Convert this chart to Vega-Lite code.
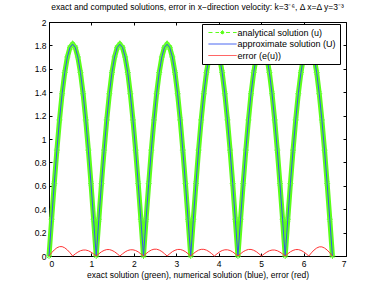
{
"$schema": "https://vega.github.io/schema/vega-lite/v6.json",
"width": 297, "height": 234,
"autosize": {"type": "none"},
"padding": {"left": 49, "top": 22, "right": 36, "bottom": 31},
"background": "white",
"title": {"text": "exact and computed solutions, error in x−direction velocity: k=3⁻⁶, Δ x=Δ y=3⁻³", "fontSize": 8.5, "font": "Liberation Sans", "fontWeight": "normal", "offset": 7, "anchor": "middle", "color": "black"},
"config": {
  "view": {"stroke": "black", "strokeWidth": 1},
  "font": "Liberation Sans",
  "axis": {"domain": false, "grid": false, "tickSize": 3, "offset": -3, "tickColor": "black", "labelColor": "black", "labelFontSize": 8.5, "labelFont": "Liberation Sans", "titleFont": "Liberation Sans", "titleFontSize": 8.5, "titleFontWeight": "normal", "titleColor": "black", "labelPadding": 3},
  "legend": {"orient": "none", "legendX": 153, "legendY": 2, "strokeColor": "black", "fillColor": "white", "padding": 3.5, "labelFontSize": 9, "labelFont": "Liberation Sans", "labelColor": "black", "symbolType": "M-0.45,0H5.8", "symbolSize": 81, "symbolStrokeWidth": 1, "rowPadding": 1.5, "symbolOffset": 0, "labelOffset": 22, "cornerRadius": 0}
},
"resolve": {"axis": {"x": "independent", "y": "independent"}},
"data": {"values": [
{"x":0,"u":0,"e":0},{"x":0.062,"u":0.314,"e":0.028},{"x":0.124,"u":0.619,"e":0.052},{"x":0.186,"u":0.905,"e":0.070},{"x":0.247,"u":1.163,"e":0.080},{"x":0.309,"u":1.387,"e":0.080},{"x":0.371,"u":1.568,"e":0.070},{"x":0.433,"u":1.701,"e":0.052},{"x":0.495,"u":1.783,"e":0.028},
{"x":0.557,"u":1.81,"e":0},{"x":0.619,"u":1.783,"e":0.018},{"x":0.680,"u":1.701,"e":0.033},{"x":0.742,"u":1.568,"e":0.045},{"x":0.804,"u":1.387,"e":0.051},{"x":0.866,"u":1.163,"e":0.051},{"x":0.928,"u":0.905,"e":0.045},{"x":0.990,"u":0.619,"e":0.033},{"x":1.051,"u":0.314,"e":0.018},
{"x":1.113,"u":0,"e":0},{"x":1.175,"u":0.314,"e":0.019},{"x":1.237,"u":0.619,"e":0.036},{"x":1.299,"u":0.905,"e":0.048},{"x":1.361,"u":1.163,"e":0.055},{"x":1.423,"u":1.387,"e":0.055},{"x":1.484,"u":1.568,"e":0.048},{"x":1.546,"u":1.701,"e":0.036},{"x":1.608,"u":1.783,"e":0.019},
{"x":1.670,"u":1.81,"e":0},{"x":1.732,"u":1.783,"e":0.018},{"x":1.794,"u":1.701,"e":0.035},{"x":1.856,"u":1.568,"e":0.047},{"x":1.917,"u":1.387,"e":0.053},{"x":1.979,"u":1.163,"e":0.053},{"x":2.041,"u":0.905,"e":0.047},{"x":2.103,"u":0.619,"e":0.035},{"x":2.165,"u":0.314,"e":0.018},
{"x":2.227,"u":0,"e":0},{"x":2.288,"u":0.314,"e":0.020},{"x":2.350,"u":0.619,"e":0.038},{"x":2.412,"u":0.905,"e":0.051},{"x":2.474,"u":1.163,"e":0.058},{"x":2.536,"u":1.387,"e":0.058},{"x":2.598,"u":1.568,"e":0.051},{"x":2.660,"u":1.701,"e":0.038},{"x":2.721,"u":1.783,"e":0.020},
{"x":2.783,"u":1.81,"e":0},{"x":2.845,"u":1.783,"e":0.019},{"x":2.907,"u":1.701,"e":0.037},{"x":2.969,"u":1.568,"e":0.049},{"x":3.031,"u":1.387,"e":0.056},{"x":3.093,"u":1.163,"e":0.056},{"x":3.154,"u":0.905,"e":0.049},{"x":3.216,"u":0.619,"e":0.037},{"x":3.278,"u":0.314,"e":0.019},
{"x":3.340,"u":0,"e":0},{"x":3.402,"u":0.314,"e":0.020},{"x":3.464,"u":0.619,"e":0.037},{"x":3.525,"u":0.905,"e":0.050},{"x":3.587,"u":1.163,"e":0.057},{"x":3.649,"u":1.387,"e":0.057},{"x":3.711,"u":1.568,"e":0.050},{"x":3.773,"u":1.701,"e":0.037},{"x":3.835,"u":1.783,"e":0.020},
{"x":3.897,"u":1.81,"e":0},{"x":3.958,"u":1.783,"e":0.018},{"x":4.020,"u":1.701,"e":0.035},{"x":4.082,"u":1.568,"e":0.047},{"x":4.144,"u":1.387,"e":0.053},{"x":4.206,"u":1.163,"e":0.053},{"x":4.268,"u":0.905,"e":0.047},{"x":4.330,"u":0.619,"e":0.035},{"x":4.391,"u":0.314,"e":0.018},
{"x":4.453,"u":0,"e":0},{"x":4.515,"u":0.314,"e":0.019},{"x":4.577,"u":0.619,"e":0.037},{"x":4.639,"u":0.905,"e":0.049},{"x":4.701,"u":1.163,"e":0.056},{"x":4.762,"u":1.387,"e":0.056},{"x":4.824,"u":1.568,"e":0.049},{"x":4.886,"u":1.701,"e":0.037},{"x":4.948,"u":1.783,"e":0.019},
{"x":5.010,"u":1.81,"e":0},{"x":5.072,"u":1.783,"e":0.018},{"x":5.134,"u":1.701,"e":0.033},{"x":5.195,"u":1.568,"e":0.045},{"x":5.257,"u":1.387,"e":0.051},{"x":5.319,"u":1.163,"e":0.051},{"x":5.381,"u":0.905,"e":0.045},{"x":5.443,"u":0.619,"e":0.033},{"x":5.505,"u":0.314,"e":0.018},
{"x":5.567,"u":0,"e":0},{"x":5.628,"u":0.314,"e":0.019},{"x":5.690,"u":0.619,"e":0.036},{"x":5.752,"u":0.905,"e":0.048},{"x":5.814,"u":1.163,"e":0.055},{"x":5.876,"u":1.387,"e":0.055},{"x":5.938,"u":1.568,"e":0.048},{"x":5.999,"u":1.701,"e":0.036},{"x":6.061,"u":1.783,"e":0.019},
{"x":6.123,"u":1.81,"e":0},{"x":6.185,"u":1.783,"e":0.027},{"x":6.247,"u":1.701,"e":0.051},{"x":6.309,"u":1.568,"e":0.068},{"x":6.370,"u":1.387,"e":0.078},{"x":6.432,"u":1.163,"e":0.078},{"x":6.494,"u":0.905,"e":0.068},{"x":6.556,"u":0.619,"e":0.051},{"x":6.618,"u":0.314,"e":0.027},
{"x":6.680,"u":0,"e":0}
]},
"layer": [
  {"mark": {"type": "line", "stroke": "#5cff1a", "strokeWidth": 5},
   "encoding": {
     "x": {"field": "x", "type": "quantitative", "scale": {"domain": [0, 7], "nice": false}, "axis": {"orient": "top", "labels": false, "title": null, "values": [0,1,2,3,4,5,6,7]}},
     "y": {"field": "u", "type": "quantitative", "scale": {"domain": [0, 2], "nice": false}, "axis": {"orient": "right", "labels": false, "title": null, "values": [0,0.2,0.4,0.6,0.8,1,1.2,1.4,1.6,1.8,2]}}
   }},
  {"mark": {"type": "point", "shape": "M-1,0H1M0,-1V1M-0.7,-0.7L0.7,0.7M-0.7,0.7L0.7,-0.7", "size": 36, "filled": false, "strokeWidth": 1, "color": "#66ff33", "opacity": 1},
   "encoding": {
     "x": {"field": "x", "type": "quantitative", "axis": null},
     "y": {"field": "u", "type": "quantitative", "axis": null}
   }},
  {"mark": {"type": "line", "strokeWidth": 1},
   "encoding": {
     "x": {"field": "x", "type": "quantitative", "axis": {"orient": "bottom", "values": [0,1,2,3,4,5,6,7], "title": "exact solution (green), numerical solution (blue), error (red)", "titlePadding": 3}},
     "y": {"field": "u", "type": "quantitative", "axis": {"orient": "left", "values": [0,0.2,0.4,0.6,0.8,1,1.2,1.4,1.6,1.8,2], "format": "~g", "title": null}},
     "color": {"datum": "analytical solution (u)", "scale": {"domain": ["analytical solution (u)", "approximate solution (U)", "error (e(u))"], "range": ["#5cff1a", "#3355ee", "#ff3333"]},
       "legend": {"title": null, "encode": {"symbols": {"update": {
         "shape": {"signal": "datum.label == 'analytical solution (u)' ? 'M-0.45,0H1.9M3.45,0H5.8M2.67,-0.5V0.5M2.17,0H3.17M2.32,-0.35L3.02,0.35M2.32,0.35L3.02,-0.35' : 'M-0.45,0H5.8'"},
         "stroke": {"signal": "datum.label == 'analytical solution (u)' ? '#44ff00' : datum.label == 'approximate solution (U)' ? '#4466ff' : '#ff3333'"},
         "strokeDash": {"signal": "datum.label == 'analytical solution (u)' ? [4, 3] : [1, 0]"}}}}}}
   }},
  {"mark": {"type": "line", "strokeWidth": 1},
   "encoding": {
     "x": {"field": "x", "type": "quantitative", "axis": null},
     "y": {"field": "u", "type": "quantitative", "axis": null},
     "color": {"datum": "approximate solution (U)", "legend": null}
   }},
  {"mark": {"type": "line", "strokeWidth": 1},
   "encoding": {
     "x": {"field": "x", "type": "quantitative", "axis": null},
     "y": {"field": "e", "type": "quantitative", "axis": null},
     "color": {"datum": "error (e(u))", "legend": null}
   }}
]
}
